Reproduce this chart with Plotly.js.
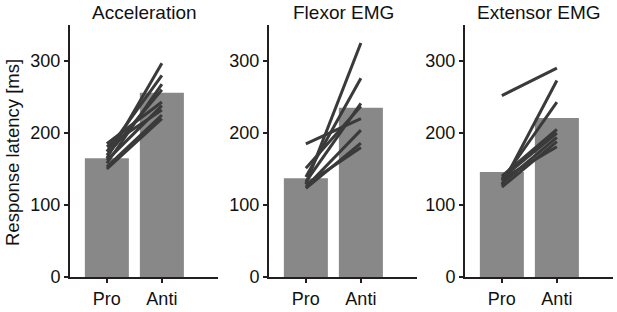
<!DOCTYPE html>
<html>
<head>
<meta charset="utf-8">
<script src="https://cdn.plot.ly/plotly-3.0.1.min.js"></script>
<style>html,body{margin:0;padding:0;background:#fff;}#chart{width:617px;height:312px;}</style>
</head>
<body>
<div id="chart"></div>
<script>
// Data
const categories = ['Pro', 'Anti'];
const panelTitles = ['Acceleration', 'Flexor EMG', 'Extensor EMG'];
const yTickValues = [0, 100, 200, 300];
const yAxisLabel = 'Response latency [ms]';

const accelMeans = [165, 256];
const flexorMeans = [137, 235];
const extensorMeans = [146, 221];

// per-subject [Pro, Anti]
const accelSubjects = [
  [185, 243], [181, 232], [174, 280], [169, 260], [165, 297],
  [162, 238], [158, 268], [153, 225], [150, 220]
];
const flexorSubjects = [
  [185, 220], [151, 237], [139, 276], [132, 241],
  [129, 325], [125, 204], [123, 186], [128, 180]
];
const extensorSubjects = [
  [252, 290], [128, 273], [134, 243], [140, 205],
  [137, 200], [130, 194], [125, 188], [136, 181]
];

const means = [accelMeans, flexorMeans, extensorMeans];
const subjects = [accelSubjects, flexorSubjects, extensorSubjects];

const W = 617, H = 312;
const xDomainsPx = [[70, 218], [269, 417], [465, 613]];
const yDomainPx = [25, 277];
const barColor = '#888888';
const lineColor = '#3a3a3a';
const axisColor = '#231f20';
const textColor = '#111111';
const fontFamily = '"Liberation Sans", Arial, sans-serif';

const traces = [];
const layout = {
  width: W, height: H,
  margin: {l: 0, r: 0, t: 0, b: 0},
  paper_bgcolor: '#ffffff',
  plot_bgcolor: 'rgba(0,0,0,0)',
  showlegend: false,
  font: {family: fontFamily, color: textColor, size: 18},
  annotations: []
};

for (let p = 0; p < 3; p++) {
  const xa = p === 0 ? 'x' : 'x' + (p + 1);
  const ya = p === 0 ? 'y' : 'y' + (p + 1);
  traces.push({
    type: 'bar', x: categories, y: means[p], xaxis: xa, yaxis: ya,
    width: 0.8, marker: {color: barColor, line: {width: 0}}, hoverinfo: 'skip'
  });
  subjects[p].forEach(s => {
    traces.push({
      type: 'scatter', mode: 'lines', x: categories, y: s, xaxis: xa, yaxis: ya,
      line: {color: lineColor, width: 3}, hoverinfo: 'skip'
    });
  });
  const xd = [xDomainsPx[p][0] / W, xDomainsPx[p][1] / W];
  const yd = [1 - yDomainPx[1] / H, 1 - yDomainPx[0] / H];
  const xKey = p === 0 ? 'xaxis' : 'xaxis' + (p + 1);
  const yKey = p === 0 ? 'yaxis' : 'yaxis' + (p + 1);
  layout[xKey] = {
    domain: xd, anchor: ya, type: 'category', range: [-0.67, 2.02],
    showline: true, linecolor: axisColor, linewidth: 2,
    ticks: 'outside', ticklen: 4, tickwidth: 1.5, tickcolor: axisColor,
    showgrid: false, zeroline: false, fixedrange: true,
    tickfont: {size: 18, family: fontFamily, color: textColor}
  };
  layout[yKey] = {
    domain: yd, anchor: xa, range: [0, 350],
    tickvals: yTickValues, ticktext: yTickValues.map(String),
    showline: true, linecolor: axisColor, linewidth: 2,
    ticks: 'outside', ticklen: 4, tickwidth: 1.5, tickcolor: axisColor,
    showgrid: false, zeroline: false, fixedrange: true,
    tickfont: {size: 18, family: fontFamily, color: textColor}
  };
  layout.annotations.push({
    text: panelTitles[p], xref: 'paper', yref: 'paper',
    x: (xd[0] + xd[1]) / 2, y: 1 - 13 / H, xanchor: 'center', yanchor: 'middle',
    showarrow: false, font: {size: 19, family: fontFamily, color: textColor}
  });
}

layout.annotations.push({
  text: yAxisLabel, xref: 'paper', yref: 'paper',
  x: 12 / W, y: 1 - 153 / H, xanchor: 'center', yanchor: 'middle',
  textangle: -90, showarrow: false,
  font: {size: 18.5, family: fontFamily, color: textColor}
});

Plotly.newPlot('chart', traces, layout, {displayModeBar: false, staticPlot: true});
</script>
</body>
</html>
